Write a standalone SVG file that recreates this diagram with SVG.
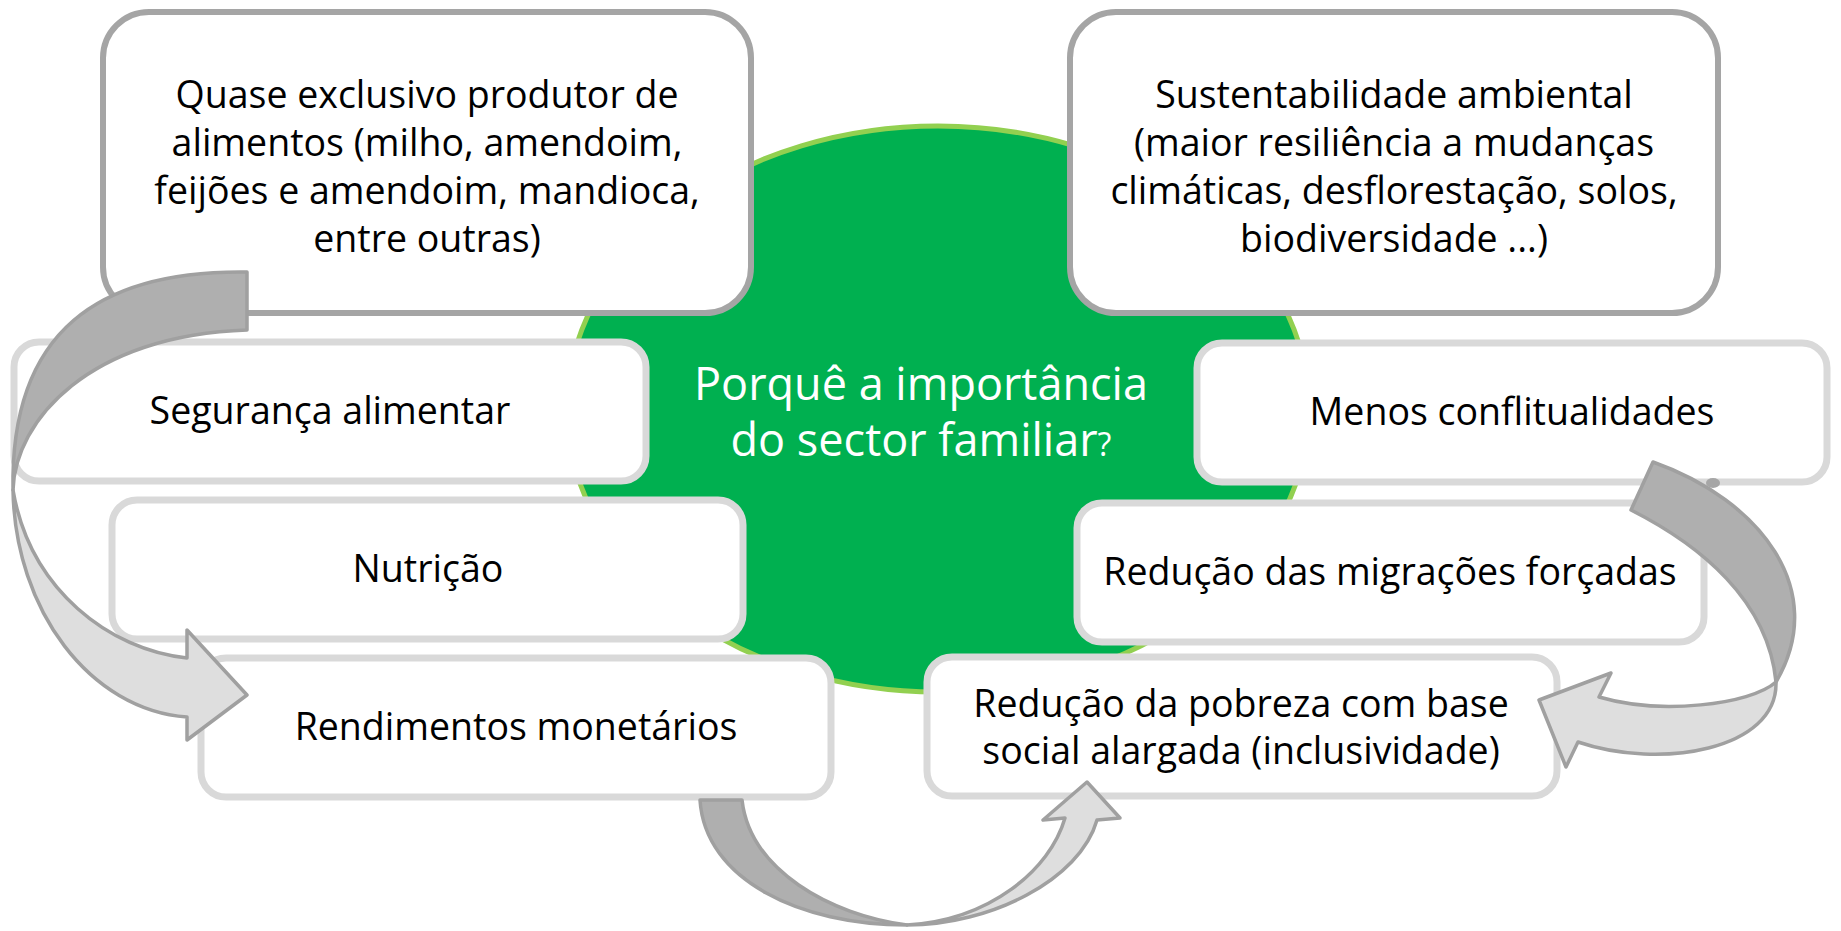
<svg xmlns="http://www.w3.org/2000/svg" width="1841" height="931" viewBox="0 0 1841 931">
<style>
.bg{fill:#ffffff}
.hub{fill:#00b050;stroke:#92d050;stroke-width:5}
.boxA{fill:#ffffff;stroke:#a5a5a5;stroke-width:6}
.boxB{fill:#ffffff;stroke:#d9d9d9;stroke-width:7}
.t{font-family:"Open Sans","Noto Sans","Liberation Sans",sans-serif;font-size:37.5px;fill:#000000;text-anchor:middle}
.title{font-family:"Open Sans","Noto Sans","Liberation Sans",sans-serif;font-size:45px;fill:#ffffff;text-anchor:middle}
.dark{fill:#afafaf;stroke:#a0a0a0;stroke-width:3.5;stroke-linejoin:round}
.light{fill:#dedede;stroke:#a0a0a0;stroke-width:3.5;stroke-linejoin:round}
</style>
<rect class="bg" x="0" y="0" width="1841" height="931"/>
<g id="hub">
<ellipse class="hub" cx="938" cy="409" rx="371" ry="283"/>
<text class="title"><tspan x="921" y="400">Porquê a importância</tspan><tspan x="921" y="456">do sector familiar<tspan style="font-size:32px">?</tspan></tspan></text>
</g>
<g id="n-alimentos">
<rect class="boxA" x="103" y="12" width="648" height="301" rx="46"/>
<text class="t"><tspan x="427" y="108">Quase exclusivo produtor de</tspan><tspan x="427" y="156">alimentos (milho, amendoim,</tspan><tspan x="427" y="204">feijões e amendoim, mandioca,</tspan><tspan x="427" y="252">entre outras)</tspan></text>
</g>
<g id="n-sustentabilidade">
<rect class="boxA" x="1070" y="12" width="648" height="301" rx="46"/>
<text class="t"><tspan x="1394" y="108">Sustentabilidade ambiental</tspan><tspan x="1394" y="156">(maior resiliência a mudanças</tspan><tspan x="1394" y="204">climáticas, desflorestação, solos,</tspan><tspan x="1394" y="252">biodiversidade ...)</tspan></text>
</g>
<g id="n-seguranca">
<rect class="boxB" x="14" y="342" width="632" height="139" rx="25"/>
<text class="t" x="330" y="424">Segurança alimentar</text>
</g>
<g id="n-nutricao">
<rect class="boxB" x="112" y="500" width="631" height="139" rx="25"/>
<text class="t" x="428" y="582">Nutrição</text>
</g>
<g id="n-rendimentos">
<rect class="boxB" x="201" y="658" width="630" height="139" rx="25"/>
<text class="t" x="516" y="740">Rendimentos monetários</text>
</g>
<g id="n-conflitualidades">
<rect class="boxB" x="1197" y="343" width="630" height="139" rx="25"/>
<text class="t" x="1512" y="425">Menos conflitualidades</text>
</g>
<g id="n-migracoes">
<rect class="boxB" x="1077" y="503" width="627" height="139" rx="25"/>
<text class="t" x="1390" y="585">Redução das migrações forçadas</text>
</g>
<g id="n-pobreza">
<rect class="boxB" x="927" y="657" width="630" height="139" rx="25"/>
<text class="t"><tspan x="1241" y="717">Redução da pobreza com base</tspan><tspan x="1241" y="764">social alargada (inclusividade)</tspan></text>
</g>
<g id="connectors">
<path class="dark" d="M247,272 C100,270 10,330 13,490 C15,420 90,335 247,330 Z"/>
<path class="light" d="M13,490 C15,610 90,710 187,717 L187,740 L247,695 L187,630 L187,658 C110,650 30,590 13,490 Z"/>
<path class="dark" d="M1653,462 C1760,500 1830,590 1776,682 C1768,600 1700,545 1631,510 Z"/>
<path class="light" d="M1776,682 C1778,750 1660,770 1578,742 L1566,767 L1539,700 L1611,673 L1599,697 C1660,715 1750,705 1776,682 Z"/>
<ellipse cx="1713" cy="483" rx="7" ry="5" fill="#a6a6a6"/>
<path class="dark" d="M700,800 C705,880 800,925 907,925 C830,915 750,870 742,800 Z"/>
<path class="light" d="M907,925 C990,925 1080,880 1097,820 L1120,818 L1087,782 L1043,820 L1065,818 C1050,870 990,920 907,925 Z"/>
</g>
</svg>
